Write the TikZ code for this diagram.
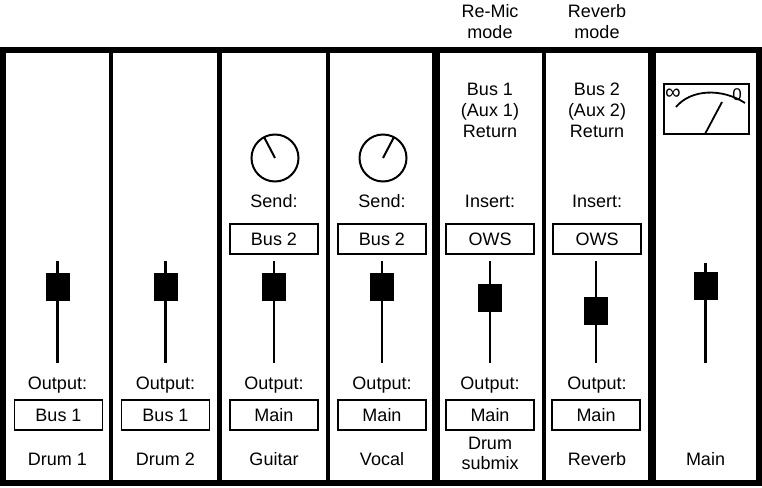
\documentclass[tikz,border=0pt]{standalone}
\usepackage{fontspec}
\setmainfont{Liberation Sans}
\newlength{\du}
\setlength{\du}{1pt}
\tikzset{
  lbl/.style={anchor=base,inner sep=0pt,font=\fontsize{18}{21}\selectfont},
  chanbox/.style={draw,line width=1.5\du,minimum width=88\du,minimum height=30\du,inner sep=0pt,font=\fontsize{18}{21}\selectfont},
  fadercap/.style={fill=black,draw=none,minimum width=24\du,minimum height=28\du,inner sep=0pt},
  fadertrack/.style={line width=2.5\du},
  knob/.style={draw,circle,line width=2\du,minimum size=47\du,inner sep=0pt},
  strip/.style={line width=4.5\du},
  bigstrip/.style={line width=7.5\du},
  meterline/.style={line width=1.8\du},
}

\begin{document}
\begin{tikzpicture}[yscale=-1]
\useasboundingbox (0,0) rectangle (762\du,487\du);
% console frame and strip dividers
\draw[line width=6\du] (2.5\du,50\du) rectangle (759\du,483\du);
\draw[strip] (111\du,50\du) -- (111\du,483\du);
\draw[strip] (219.5\du,50\du) -- (219.5\du,483\du);
\draw[strip] (328\du,50\du) -- (328\du,483\du);
\draw[bigstrip] (436\du,50\du) -- (436\du,483\du);
\draw[strip] (544\du,50\du) -- (544\du,483\du);
\draw[bigstrip] (652\du,50\du) -- (652\du,483\du);
% Drum 1
\node[lbl] (drumone) at (57.5\du,465\du) {Drum 1};
\node[lbl] (drumoneoutlbl) at (57.5\du,389\du) {Output:};
\node[chanbox] (drumoneout) at (58.5\du,415\du) {Bus 1};
\coordinate (drumonetop) at (57.5\du,261\du);
\coordinate (drumonebot) at (57.5\du,363\du);
\draw[fadertrack] (drumonetop) -- (drumonebot);
\node[fadercap] (drumonefader) at (57.5\du,287\du) {};
% Drum 2
\node[lbl] (drumtwo) at (165.5\du,465\du) {Drum 2};
\node[lbl] (drumtwooutlbl) at (165.5\du,389\du) {Output:};
\node[chanbox] (drumtwoout) at (165.5\du,415\du) {Bus 1};
\coordinate (drumtwotop) at (165.5\du,261\du);
\coordinate (drumtwobot) at (165.5\du,363\du);
\draw[fadertrack] (drumtwotop) -- (drumtwobot);
\node[fadercap] (drumtwofader) at (165.5\du,287\du) {};
% Guitar
\node[lbl] (guitar) at (274\du,465\du) {Guitar};
\node[lbl] (guitaroutlbl) at (274\du,389\du) {Output:};
\node[chanbox] (guitarout) at (274\du,415\du) {Main};
\coordinate (guitartop) at (274\du,261\du);
\coordinate (guitarbot) at (274\du,363\du);
\draw[fadertrack] (guitartop) -- (guitarbot);
\node[fadercap] (guitarfader) at (274\du,287\du) {};
\node[lbl] (guitarsendlbl) at (274\du,207\du) {Send:};
\node[chanbox] (guitarsend) at (274\du,239\du) {Bus 2};
\node[knob] (guitarknob) at (275\du,158\du) {};
\draw[line width=2\du] (guitarknob.center) -- ++(-11\du,-21\du);
% Vocal
\node[lbl] (vocal) at (382\du,465\du) {Vocal};
\node[lbl] (vocaloutlbl) at (382\du,389\du) {Output:};
\node[chanbox] (vocalout) at (382\du,415\du) {Main};
\coordinate (vocaltop) at (382\du,261\du);
\coordinate (vocalbot) at (382\du,363\du);
\draw[fadertrack] (vocaltop) -- (vocalbot);
\node[fadercap] (vocalfader) at (382\du,287\du) {};
\node[lbl] (vocalsendlbl) at (382\du,207\du) {Send:};
\node[chanbox] (vocalsend) at (382\du,239\du) {Bus 2};
\node[knob] (vocalknob) at (383\du,158\du) {};
\draw[line width=2\du] (vocalknob.center) -- ++(11\du,-21\du);
% Drum submix (bus 1 return)
\node[lbl] (remic) at (490\du,17.5\du) {Re-Mic};
\node[lbl] (remicmode) at (490\du,38\du) {mode};
\node[lbl] (busone) at (490\du,95\du) {Bus 1};
\node[lbl] (auxone) at (490\du,116\du) {(Aux 1)};
\node[lbl] (busonertn) at (490\du,137\du) {Return};
\node[lbl] (busoneinslbl) at (490\du,207\du) {Insert:};
\node[chanbox] (busoneins) at (490\du,239\du) {OWS};
\coordinate (submixtop) at (490\du,261\du);
\coordinate (submixbot) at (490\du,363\du);
\draw[fadertrack] (submixtop) -- (submixbot);
\node[fadercap] (submixfader) at (490\du,298\du) {};
\node[lbl] (submixoutlbl) at (490\du,389\du) {Output:};
\node[chanbox] (submixout) at (490\du,415\du) {Main};
\node[lbl] (submixa) at (490\du,449\du) {Drum};
\node[lbl] (submixb) at (490\du,469.5\du) {submix};
% Reverb (bus 2 return)
\node[lbl] (revmode) at (597\du,17.5\du) {Reverb};
\node[lbl] (revmodeb) at (597\du,38\du) {mode};
\node[lbl] (bustwo) at (597\du,95\du) {Bus 2};
\node[lbl] (auxtwo) at (597\du,116\du) {(Aux 2)};
\node[lbl] (bustwortn) at (597\du,137\du) {Return};
\node[lbl] (bustwoinslbl) at (597\du,207\du) {Insert:};
\node[chanbox] (bustwoins) at (597\du,239\du) {OWS};
\coordinate (reverbtop) at (596\du,261\du);
\coordinate (reverbbot) at (596\du,363\du);
\draw[fadertrack] (reverbtop) -- (reverbbot);
\node[fadercap] (reverbfader) at (596\du,310.5\du) {};
\node[lbl] (reverboutlbl) at (597\du,389\du) {Output:};
\node[chanbox] (reverbout) at (596\du,415\du) {Main};
\node[lbl] (reverb) at (597\du,465\du) {Reverb};
% Main
\node[draw,meterline,minimum width=85\du,minimum height=50\du,inner sep=0pt] (meter) at (706.5\du,109\du) {};
\draw[meterline] (676\du,107\du) .. controls (691\du,89\du) and (722\du,88\du) .. (745\du,103\du);
\node[inner sep=0pt,font=\fontsize{22}{22}\selectfont] (meterinf) at (673\du,94\du) {∞};
\node[anchor=base,inner sep=0pt,font=\fontsize{17}{17}\selectfont] (meterzero) at (737\du,100\du) {0};
\coordinate (pivot) at (705\du,134\du);
\coordinate (needle) at (722\du,102\du);
\draw[meterline] (pivot) -- (needle);
\coordinate (maintop) at (705.5\du,263\du);
\coordinate (mainbot) at (705.5\du,363\du);
\draw[fadertrack] (maintop) -- (mainbot);
\node[fadercap] (mainfader) at (705.5\du,286\du) {};
\node[lbl] (main) at (705.5\du,465\du) {Main};
\end{tikzpicture}
\end{document}
